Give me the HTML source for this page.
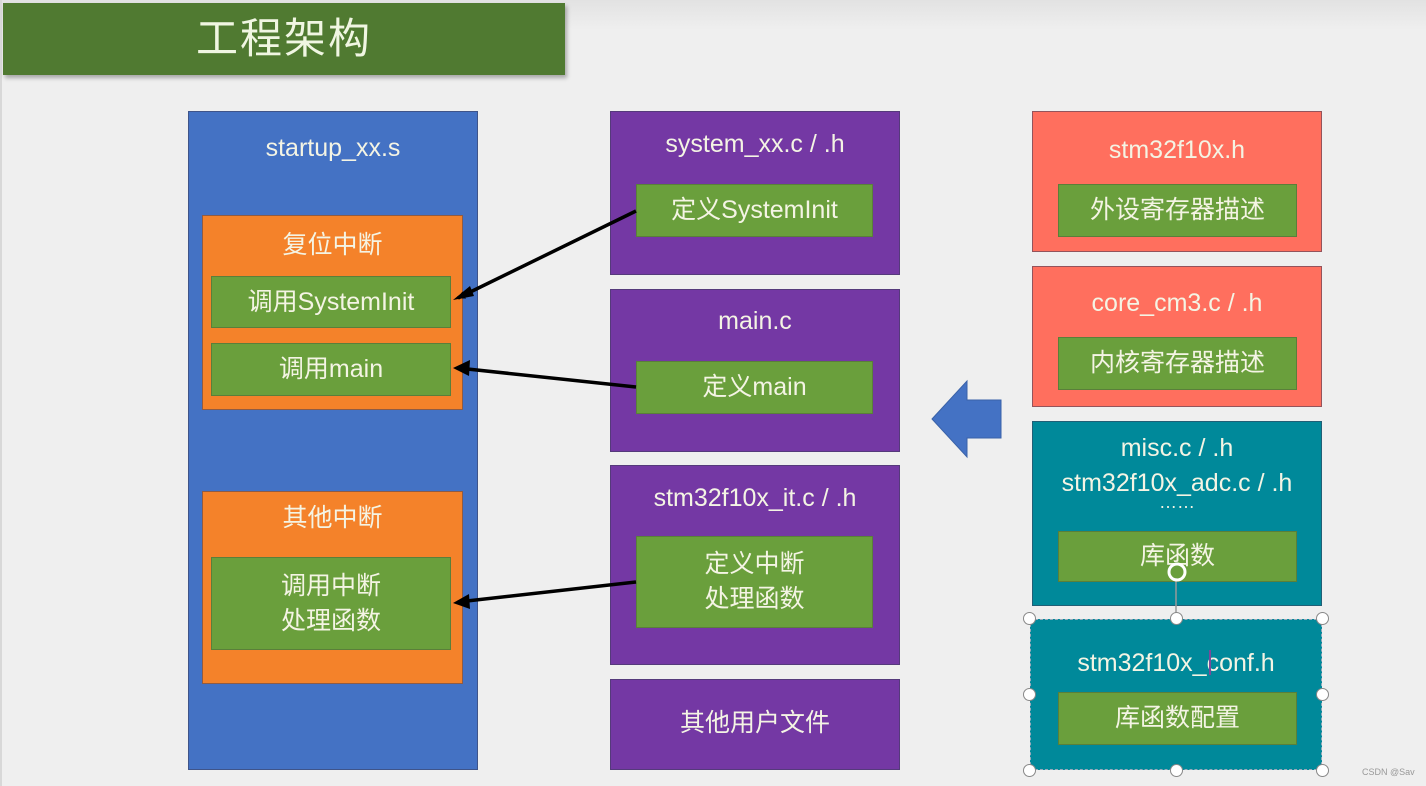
<!DOCTYPE html>
<html><head><meta charset="utf-8">
<style>
*{margin:0;padding:0;box-sizing:border-box}
body{width:1426px;height:786px;overflow:hidden;background:#efefef;position:relative;font-family:"Liberation Sans","Noto Sans CJK SC",sans-serif;color:#f4f4e4}
.b{position:absolute;border:1px solid rgba(60,60,90,.55)}
.t{position:absolute;left:0;right:0;text-align:center;font-size:25px;line-height:30px;white-space:nowrap}
.g{position:absolute;background:#6a9f3c;border:1px solid #5a7f3a;display:flex;align-items:center;justify-content:center;text-align:center;font-size:25px;line-height:35px}
.blue{background:#4472c4}
.or{background:#f4822a}
.pu{background:#7438a4}
.sa{background:#ff6f5e}
.te{background:#00899a}
.h{position:absolute;width:13px;height:13px;border-radius:50%;background:#fff;border:1px solid #888}
</style></head><body>
<div style="position:absolute;left:0;top:0;width:1426px;height:30px;background:linear-gradient(#e2e2e2,#efefef)"></div>
<div style="position:absolute;left:0;top:0;width:2px;height:786px;background:#d8d8d8"></div>
<div style="position:absolute;left:3px;top:3px;width:562px;height:72px;background:#507a31;box-shadow:2px 3px 4px rgba(0,0,0,.3)"><div class="t" style="top:13px;font-size:42px;line-height:46px;letter-spacing:2px;color:#f0f6e2">工程架构</div></div>

<div class="b blue" style="left:188px;top:111px;width:290px;height:659px"><div class="t" style="top:21px">startup_xx.s</div></div>
<div class="b or" style="left:202px;top:215px;width:261px;height:195px"><div class="t" style="top:14px">复位中断</div></div>
<div class="g" style="left:211px;top:276px;width:240px;height:52px">调用SystemInit</div>
<div class="g" style="left:211px;top:343px;width:240px;height:53px">调用main</div>
<div class="b or" style="left:202px;top:491px;width:261px;height:193px"><div class="t" style="top:11px">其他中断</div></div>
<div class="g" style="left:211px;top:557px;width:240px;height:93px">调用中断<br>处理函数</div>

<div class="b pu" style="left:610px;top:111px;width:290px;height:164px"><div class="t" style="top:17px">system_xx.c / .h</div></div>
<div class="g" style="left:636px;top:184px;width:237px;height:53px">定义SystemInit</div>
<div class="b pu" style="left:610px;top:289px;width:290px;height:163px"><div class="t" style="top:16px">main.c</div></div>
<div class="g" style="left:636px;top:361px;width:237px;height:53px">定义main</div>
<div class="b pu" style="left:610px;top:465px;width:290px;height:200px"><div class="t" style="top:17px">stm32f10x_it.c / .h</div></div>
<div class="g" style="left:636px;top:536px;width:237px;height:92px">定义中断<br>处理函数</div>
<div class="b pu" style="left:610px;top:679px;width:290px;height:91px"><div class="t" style="top:28px">其他用户文件</div></div>

<div class="b sa" style="left:1032px;top:111px;width:290px;height:141px"><div class="t" style="top:23px">stm32f10x.h</div></div>
<div class="g" style="left:1058px;top:184px;width:239px;height:53px">外设寄存器描述</div>
<div class="b sa" style="left:1032px;top:266px;width:290px;height:141px"><div class="t" style="top:21px">core_cm3.c / .h</div></div>
<div class="g" style="left:1058px;top:337px;width:239px;height:53px">内核寄存器描述</div>
<div class="b te" style="left:1032px;top:421px;width:290px;height:185px"><div class="t" style="top:9px;line-height:35px">misc.c / .h<br>stm32f10x_adc.c / .h</div><div class="t" style="top:70px;font-size:18px;line-height:20px">……</div></div>
<div class="g" style="left:1058px;top:531px;width:239px;height:51px">库函数</div>
<div class="b te" style="left:1030px;top:619px;width:292px;height:151px;border:1px dashed #9ab"><div class="t" style="top:28px">stm32f10x_conf.h</div></div>
<div class="g" style="left:1058px;top:692px;width:239px;height:53px">库函数配置</div>

<svg style="position:absolute;left:0;top:0" width="1426" height="786">
<defs><marker id="a" markerWidth="8" markerHeight="8" refX="7" refY="4" orient="auto" markerUnits="userSpaceOnUse"><path d="M0,0 L8,4 L0,8 Z" fill="#000"/></marker></defs>
<g stroke="#000" stroke-width="3.5" fill="none">
<line x1="636" y1="211" x2="458" y2="298" marker-end="url(#a)" style="marker-end:url(#a)"/>
<line x1="636" y1="387" x2="458" y2="368"/>
<line x1="636" y1="582" x2="458" y2="602"/>
</g>
<path d="M453,300 L470,286 L474,296 Z M453,368 L470,360 L469,376 Z M453,603 L469,594 L470,609 Z" fill="#000"/>
<path d="M932,419 L967,381 L967,400 L1001,400 L1001,438 L967,438 L967,457 Z" fill="#4472c4" stroke="#3a62a8" stroke-width="1"/>
<line x1="1176" y1="578" x2="1176" y2="618" stroke="#999" stroke-width="1.5"/>
<circle cx="1177" cy="572" r="8" fill="none" stroke="#fff" stroke-width="3"/>
<line x1="1210" y1="650" x2="1210" y2="675" stroke="#7a4a9a" stroke-width="2"/>
</svg>
<div class="h" style="left:1023px;top:612px"></div>
<div class="h" style="left:1170px;top:612px"></div>
<div class="h" style="left:1316px;top:612px"></div>
<div class="h" style="left:1023px;top:688px"></div>
<div class="h" style="left:1316px;top:688px"></div>
<div class="h" style="left:1023px;top:764px"></div>
<div class="h" style="left:1170px;top:764px"></div>
<div class="h" style="left:1316px;top:764px"></div>
<div style="position:absolute;left:1362px;top:767px;font-size:9px;color:#999">CSDN @Sav</div>
</body></html>
